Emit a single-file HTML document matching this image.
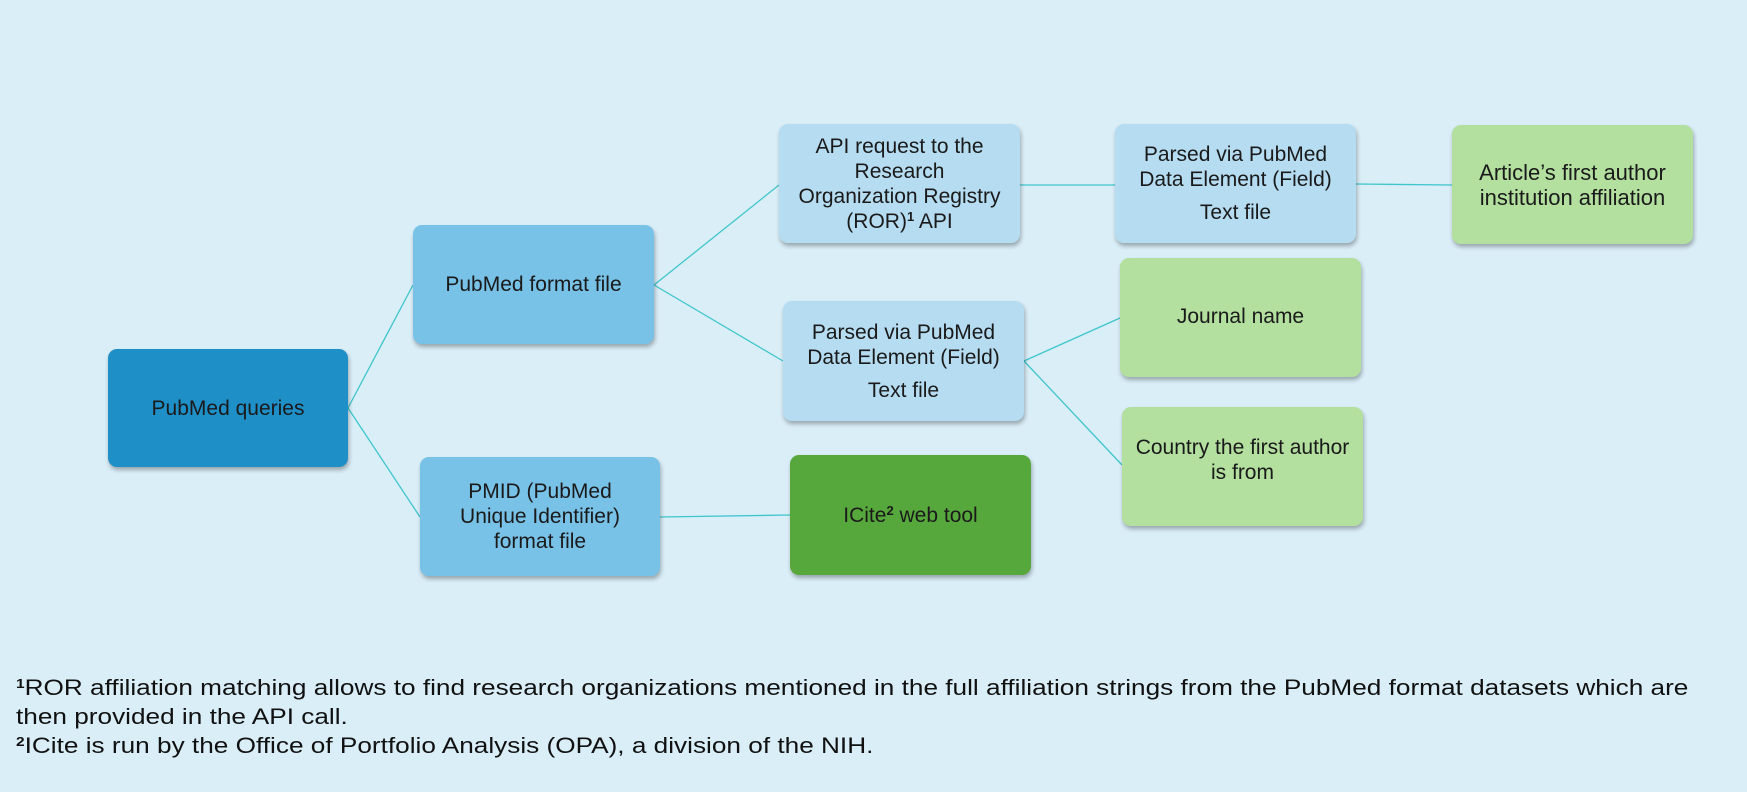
<!DOCTYPE html>
<html><head><meta charset="utf-8"><style>
body{margin:0;width:1747px;height:792px;background:#daeef8;position:relative;overflow:hidden;font-family:"Liberation Sans",sans-serif}
.b{position:absolute;border-radius:9px;box-shadow:1px 3px 4px rgba(0,0,0,.3);display:flex;align-items:center;justify-content:center;text-align:center;font-size:21px;line-height:25px;color:#1a1a1a;box-sizing:border-box;padding:0 4px;white-space:nowrap}
.d{background:#1f8fc8}.m{background:#78c2e8}.l{background:#b5dcf1}.g{background:#b3df9f}.G{background:#57a83c}
sup{font-size:13px;font-weight:bold;vertical-align:7px;line-height:0}
.f{position:absolute;left:16px;font-size:22px;color:#111;white-space:nowrap;transform:scaleX(1.19);transform-origin:0 0}
</style></head><body>
<svg width="1747" height="792" style="position:absolute;left:0;top:0">
<g stroke="#3fc6cc" stroke-width="1.3" fill="none">
<line x1="348" y1="408" x2="413" y2="285"/>
<line x1="348" y1="408" x2="420" y2="517"/>
<line x1="654" y1="285" x2="779" y2="185"/>
<line x1="654" y1="285" x2="783" y2="361"/>
<line x1="1020" y1="185" x2="1115" y2="185"/>
<line x1="1356" y1="184" x2="1452" y2="185"/>
<line x1="1024" y1="361" x2="1120" y2="318"/>
<line x1="1024" y1="361" x2="1122" y2="465"/>
<line x1="660" y1="517" x2="790" y2="515"/>
</g></svg>
<div class="b d" style="left:108px;top:349px;width:240px;height:118px"><span>PubMed queries</span></div>
<div class="b m" style="left:413px;top:225px;width:241px;height:119px"><span>PubMed format file</span></div>
<div class="b m" style="left:420px;top:457px;width:240px;height:119px"><span>PMID (PubMed<br>Unique Identifier)<br>format file</span></div>
<div class="b l" style="left:779px;top:124px;width:241px;height:119px"><span>API request to the<br>Research<br>Organization Registry<br>(ROR)<sup>1</sup> API</span></div>
<div class="b l" style="left:1115px;top:124px;width:241px;height:119px"><span>Parsed via PubMed<br>Data Element (Field)<br><span style="display:block;margin-top:8px">Text file</span></span></div>
<div class="b g" style="left:1452px;top:125px;width:241px;height:119px;font-size:22px"><span>Article’s first author<br>institution affiliation</span></div>
<div class="b l" style="left:783px;top:301px;width:241px;height:120px"><span>Parsed via PubMed<br>Data Element (Field)<br><span style="display:block;margin-top:8px">Text file</span></span></div>
<div class="b g" style="left:1120px;top:258px;width:241px;height:119px;align-items:flex-start;padding-top:46px"><span>Journal name</span></div>
<div class="b g" style="left:1122px;top:407px;width:241px;height:119px;padding-bottom:14px"><span>Country the first author<br>is from</span></div>
<div class="b G" style="left:790px;top:455px;width:241px;height:120px"><span>ICite<sup>2</sup> web tool</span></div>
<div class="f" style="top:675px"><sup>1</sup>ROR affiliation matching allows to find research organizations mentioned in the full affiliation strings from the PubMed format datasets which are</div>
<div class="f" style="top:704px">then provided in the API call.</div>
<div class="f" style="top:733px"><sup>2</sup>ICite is run by the Office of Portfolio Analysis (OPA), a division of the NIH.</div>
</body></html>
